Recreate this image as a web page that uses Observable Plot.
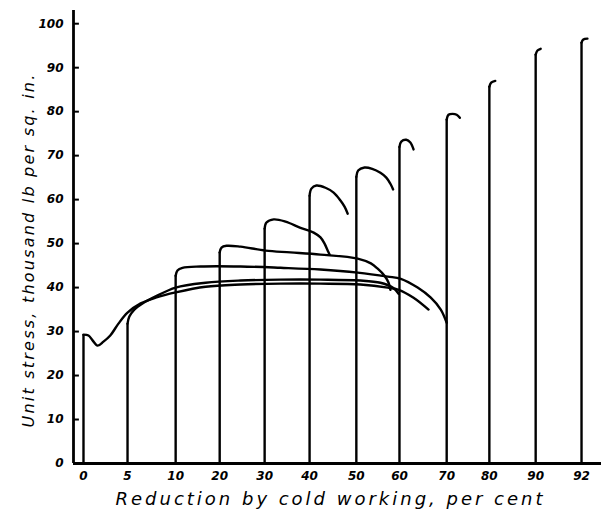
<!DOCTYPE html>
<html>
<head>
<meta charset="utf-8">
<script src="https://cdn.jsdelivr.net/npm/d3@7"></script>
<script src="https://cdn.jsdelivr.net/npm/@observablehq/plot@0.6"></script>
<style>
  html, body { margin: 0; padding: 0; background: #fff; }
  svg { display: block; }
</style>
</head>
<body>
<div id="chart"></div>
<script>
// Specimen labels (reduction by cold working, per cent) and their start positions on the axis
const reductionLabels = ["0", "5", "10", "20", "30", "40", "50", "60", "70", "80", "90", "92"];
const specimenStart = [0, 0.97, 2.03, 3.0, 3.99, 4.98, 6.01, 6.96, 8.0, 8.94, 9.96, 10.97];

// Stress–strain curves: [strain offset from specimen start (axis units), stress (thousand lb/sq in)]
const curve0 = [[0,0],[0,29.3],[0.11,29.1],[0.20,28.0],[0.31,26.8],[0.44,27.7],[0.59,29.1],[0.77,31.8],[0.97,34.3],[1.26,36.4],[1.59,37.7],[2.03,38.9],[2.69,40.2],[3.46,40.7],[4.34,40.9],[5.22,40.9],[6.10,40.7],[6.70,40.0],[6.94,39.5],[7.27,37.7],[7.60,35.0]];
const curve5 = [[0,0],[0,31.8],[0.04,33.4],[0.15,35.0],[0.33,36.4],[0.62,38.0],[1.06,40.0],[1.72,41.1],[2.49,41.6],[3.37,41.8],[4.25,41.8],[5.13,41.6],[5.57,41.1],[5.84,40.0],[5.97,38.6]];
const curve10 = [[0,0],[0,42.7],[0.04,43.9],[0.15,44.5],[0.55,44.8],[1.43,44.8],[2.31,44.5],[3.19,44.1],[4.01,43.4],[4.67,42.5],[4.96,42.0],[5.33,40.0],[5.62,37.7],[5.84,35.0],[5.97,32.0]];
const curve20 = [[0,0],[0,48.0],[0.04,49.1],[0.15,49.5],[0.46,49.3],[1.01,48.4],[1.56,48.0],[2.22,47.5],[3.04,46.6],[3.33,45.5],[3.48,44.3],[3.63,42.7],[3.72,41.1],[3.76,39.5]];
const curve30 = [[0,0],[0,53.4],[0.04,54.8],[0.20,55.5],[0.46,55.0],[0.79,53.6],[1.08,52.5],[1.23,51.4],[1.32,50.0],[1.39,48.4],[1.43,47.5]];
const curve40 = [[0,0],[0,60.9],[0.04,62.5],[0.15,63.2],[0.35,62.7],[0.53,61.6],[0.68,59.8],[0.77,58.4],[0.84,56.8]];
const curve50 = [[0,0],[0,65.2],[0.04,66.6],[0.18,67.3],[0.35,67.0],[0.53,66.1],[0.66,65.0],[0.75,63.6],[0.81,62.3]];
const curve60 = [[0,0],[0,72.0],[0.04,73.2],[0.15,73.6],[0.24,73.0],[0.31,71.4]];
const curve70 = [[0,0],[0,78.2],[0.04,79.3],[0.13,79.5],[0.22,79.3],[0.29,78.6]];
const curve80 = [[0,0],[0,85.7],[0.04,86.6],[0.13,87.0]];
const curve90 = [[0,0],[0,93.0],[0.04,93.9],[0.11,94.3]];
const curve92 = [[0,0],[0,95.7],[0.04,96.4],[0.13,96.6]];

const yTicks = [0, 10, 20, 30, 40, 50, 60, 70, 80, 90, 100];

const xTitle = "Reduction by cold working, per cent";
const yTitle = "Unit stress, thousand lb per sq. in.";

const curves = [curve0, curve5, curve10, curve20, curve30, curve40, curve50, curve60, curve70, curve80, curve90, curve92];
// straight loading part (first two points) and the curved top (from the second point on)
const verticals = curves.map((c, i) => ({x: specimenStart[i] + c[0][0], y1: c[0][1], y2: c[1][1]}));
const rows = curves.flatMap((c, i) => c.slice(1).map(([dx, y]) => ({id: i, x: specimenStart[i] + dx, y})));
const labelRows = reductionLabels.map((t, i) => ({t, x: specimenStart[i]}));

const xMin = -0.22, xMax = 11.41;
const numFont = "DejaVu Sans";

const chart = Plot.plot({
  width: 601,
  height: 518,
  marginLeft: 73,
  marginRight: 0,
  marginTop: 10,
  marginBottom: 55,
  x: {domain: [xMin, xMax], axis: null},
  y: {domain: [0, 103], axis: null},
  style: {background: "white", color: "black"},
  marks: [
    // curves
    Plot.ruleX(verticals, {x: "x", y1: "y1", y2: "y2", stroke: "black", strokeWidth: 2.4}),
    Plot.line(rows, {x: "x", y: "y", z: "id", stroke: "black", strokeWidth: 2.4, curve: "catmull-rom", strokeLinecap: "round", strokeLinejoin: "round"}),
    // axes
    Plot.ruleX([xMin], {y1: 0, y2: 103, stroke: "black", strokeWidth: 2.8}),
    Plot.ruleY([0], {x1: xMin, x2: xMax, stroke: "black", strokeWidth: 2.8}),
    // inward y ticks
    Plot.ruleY(yTicks, {x1: xMin, x2: xMin + 0.13, stroke: "black", strokeWidth: 2}),
    // y tick labels
    Plot.text(yTicks, {x: xMin, y: d => d, text: d => String(d), dx: -10, textAnchor: "end", fontSize: 12, fontWeight: "bold", fontStyle: "italic", fontFamily: numFont}),
    // x tick labels
    Plot.text(labelRows, {x: "x", y: 0, text: "t", dy: 13, fontSize: 12, fontWeight: "bold", fontStyle: "italic", fontFamily: numFont}),
    // axis titles
    Plot.text([xTitle], {frameAnchor: "bottom", dy: 41, dx: -7, textAnchor: "middle", fontSize: 18, fontStyle: "italic", fontFamily: "DejaVu Sans"}),
    Plot.text([yTitle], {frameAnchor: "left", rotate: -90, dx: -45, dy: 13, textAnchor: "middle", fontSize: 16, fontStyle: "italic", fontFamily: "DejaVu Sans"})
  ]
});
document.getElementById("chart").append(chart);
// stretch the hand-lettered titles to the reference's widths
const targets = {[xTitle]: 430, [yTitle]: 355};
chart.querySelectorAll("text").forEach(t => {
  const target = targets[t.textContent];
  if (target) {
    const natural = t.getComputedTextLength();
    const n = t.textContent.length;
    t.setAttribute("letter-spacing", ((target - natural) / n).toFixed(2));
  }
});
</script>
</body>
</html>
